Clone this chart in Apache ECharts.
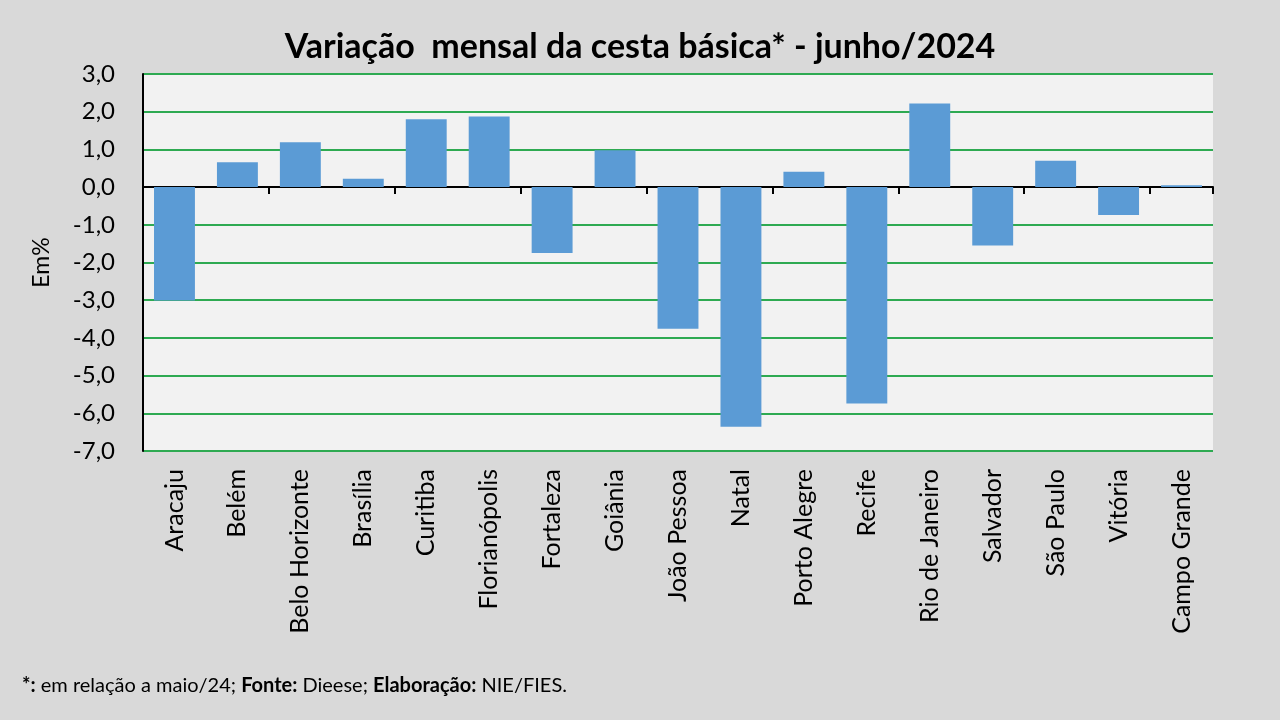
<!DOCTYPE html>
<html><head><meta charset="utf-8">
<script src="https://cdn.jsdelivr.net/npm/echarts@6/dist/echarts.min.js"></script>
<style>html,body{margin:0;padding:0;background:#d9d9d9;}#c{width:1280px;height:720px;}</style>
</head><body><div id="c"></div>
<script>
const categories = ['Aracaju','Belém','Belo Horizonte','Brasília','Curitiba','Florianópolis','Fortaleza','Goiânia','João Pessoa','Natal','Porto Alegre','Recife','Rio de Janeiro','Salvador','São Paulo','Vitória','Campo Grande'];
const variacao = [-3.01,0.66,1.19,0.22,1.80,1.87,-1.75,0.98,-3.76,-6.36,0.41,-5.74,2.22,-1.55,0.70,-0.74,0.05];
const yTicks = [3,2,1,0,-1,-2,-3,-4,-5,-6,-7];

const font = 'Lato, "Open Sans", sans-serif';
const chart = echarts.init(document.getElementById('c'));
chart.setOption({
  backgroundColor: '#d9d9d9',
  animation: false,
  title: {
    text: 'Variação  mensal da cesta básica* - junho/2024',
    left: 'center', top: 25,
    textStyle: {fontFamily: font, fontSize: 34, fontWeight: 'bold', color: '#000'}
  },
  graphic: [{
    type: 'text', left: 22, top: 676,
    style: {
      text: '{b|*:} em relação a maio/24; {b|Fonte:} Dieese; {b|Elaboração:} NIE/FIES.',
      font: '20px ' + font, fill: '#000',
      rich: {b: {fontWeight: 'bold', fontSize: 20, fontFamily: font}}
    }
  }],
  grid: {left: 143, right: 67, top: 74, bottom: 269, show: true, backgroundColor: '#f2f2f2', borderWidth: 0},
  xAxis: [{
    type: 'category', data: categories, position: 'bottom',
    axisLine: {onZero: true, lineStyle: {color: '#000', width: 2}},
    axisTick: {show: true, length: 7, lineStyle: {color: '#000', width: 2}},
    axisLabel: {show: false}
  }, {
    type: 'category', data: categories, position: 'bottom',
    axisLine: {show: false, onZero: false}, axisTick: {show: false},
    axisLabel: {rotate: 90, fontFamily: font, fontSize: 25, color: '#000', margin: 18, interval: 0}
  }],
  yAxis: {
    type: 'value', min: -7, max: 3, interval: 1,
    name: 'Em%', nameLocation: 'middle', nameGap: 90, nameRotate: 90,
    nameTextStyle: {fontFamily: font, fontSize: 23, color: '#000'},
    axisLine: {show: true, lineStyle: {color: '#000', width: 2}},
    axisTick: {show: false},
    axisLabel: {fontFamily: font, fontSize: 24, color: '#000', margin: 28,
      formatter: v => v.toFixed(1).replace('.', ',')},
    splitLine: {show: true, lineStyle: {color: '#2eaa52', width: 2}}
  },
  series: [{
    type: 'bar', data: variacao, xAxisIndex: 0, barWidth: '65%',
    itemStyle: {color: '#5b9bd5'}
  }]
});
</script></body></html>
